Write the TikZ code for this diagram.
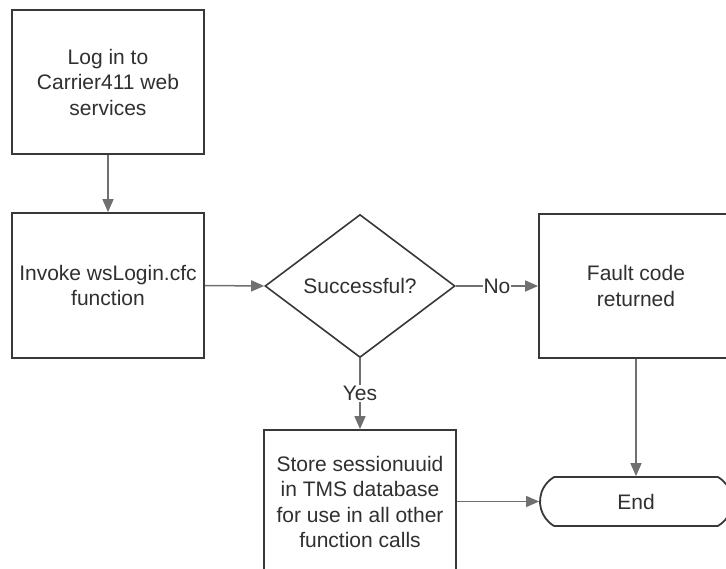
\documentclass[tikz,border=0pt]{standalone}
\usepackage{fontspec}
\setmainfont{Liberation Sans}
\usetikzlibrary{shapes.geometric,shapes.misc,arrows.meta}
\definecolor{boxline}{HTML}{383838}
\definecolor{conline}{HTML}{707070}
\definecolor{txt}{HTML}{303030}
\tikzset{
  procbox/.style={draw=boxline, line width=1.8pt, fill=white, rectangle, inner sep=0pt,
    align=center, text=txt, font=\fontsize{21}{25.5}\selectfont},
  decbox/.style={draw=boxline, line width=1.6pt, fill=white, diamond, inner sep=0pt,
    align=center, text=txt, font=\fontsize{21}{25.5}\selectfont},
  termbox/.style={draw=boxline, line width=1.8pt, fill=white, rounded rectangle,
    rounded rectangle arc length=120, inner sep=0pt,
    align=center, text=txt, font=\fontsize{21}{25.5}\selectfont},
  conn/.style={draw=conline, line width=1.5pt, -{Triangle[length=13pt,width=11pt]}},
  lbl/.style={fill=white, inner sep=1pt, text=txt, font=\fontsize{21}{25.5}\selectfont}
}
\begin{document}
\begin{tikzpicture}[x=1pt,y=-1pt]
\useasboundingbox (0,0) rectangle (726,569);
\clip (0,0) rectangle (726,569);
\fill[white] (0,0) rectangle (726,569);
\node[procbox, minimum width=192pt, minimum height=144pt] (login) at (108,82) {Log in to\\Carrier411 web\\services};
\node[procbox, minimum width=192pt, minimum height=145pt] (invoke) at (108,285.5) {Invoke wsLogin.cfc\\function};
\node[decbox, minimum width=190pt, minimum height=143pt] (dec) at (360,286) {Successful?};
\node[procbox, minimum width=194pt, minimum height=144pt] (fault) at (636,286) {Fault code\\returned};
\node[procbox, minimum width=192pt, minimum height=144pt] (store) at (360,502) {Store sessionuuid\\in TMS database\\for use in all other\\function calls};
\node[termbox, minimum width=192pt, minimum height=49pt] (end) at (636,501.5) {End};
\draw[conn] (login.south) -- (invoke.north);
\draw[conn] (invoke.east) -- (dec.west);
\draw[conn] (dec.east) -- node[lbl] (no) {No} (fault.west);
\draw[conn] (dec.south) -- node[lbl] (yes) {Yes} (store.north);
\draw[conn] (store.east |- end.west) -- (end.west);
\draw[conn] (fault.south) -- (end.north);
\end{tikzpicture}
\end{document}
